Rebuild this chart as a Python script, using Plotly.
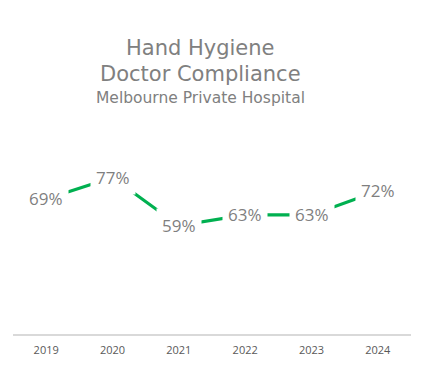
import plotly.graph_objects as go

years = ["2019", "2020", "2021", "2022", "2023", "2024"]
compliance = [69, 77, 59, 63, 63, 72]
labels = ["69%", "77%", "59%", "63%", "63%", "72%"]
title_lines = ["Hand Hygiene", "Doctor Compliance", "Melbourne Private Hospital"]

W, H = 424, 365
ML, MR, MT, MB = 5, 21, 108, 39
PW, PH = W - ML - MR, H - MT - MB

fig = go.Figure()
fig.add_trace(go.Scatter(
    x=years, y=compliance, mode="lines",
    line=dict(color="#00B050", width=3.2),
    hoverinfo="skip", showlegend=False,
))

for i, (yv, t) in enumerate(zip(compliance, labels)):
    fig.add_annotation(
        x=i, y=yv, xref="x", yref="y", text=t, showarrow=False,
        bgcolor="white", borderpad=5,
        font=dict(family="Open Sans, sans-serif", size=17, color="#7f7f7f"),
    )

# title lines, placed by figure pixel (page has an 8px body margin)
title_y = [40, 66, 90]
title_size = [21, 21, 15.5]
for t, yy, sz in zip(title_lines, title_y, title_size):
    fig.add_annotation(
        x=(192 - ML) / PW, y=((H - yy) - MB) / PH, xref="paper", yref="paper",
        xanchor="center", yanchor="middle", showarrow=False, text=t,
        font=dict(family="DejaVu Sans, sans-serif", size=sz, color="#808080"),
    )

fig.update_layout(
    width=W, height=H,
    margin=dict(l=ML, r=MR, t=MT, b=MB, autoexpand=False),
    paper_bgcolor="white", plot_bgcolor="white",
    xaxis=dict(
        type="category", range=[-0.5, 5.5],
        showgrid=False, zeroline=False,
        showline=True, linecolor="#d9d9d9", linewidth=1.5,
        ticks="", ticklen=0, automargin=False, ticklabelstandoff=5,
        tickfont=dict(family="Open Sans, sans-serif", size=11, color="#595959"),
    ),
    yaxis=dict(
        range=[18.5, 100], visible=False, showgrid=False, zeroline=False,
    ),
)

fig.write_html("out.html")
